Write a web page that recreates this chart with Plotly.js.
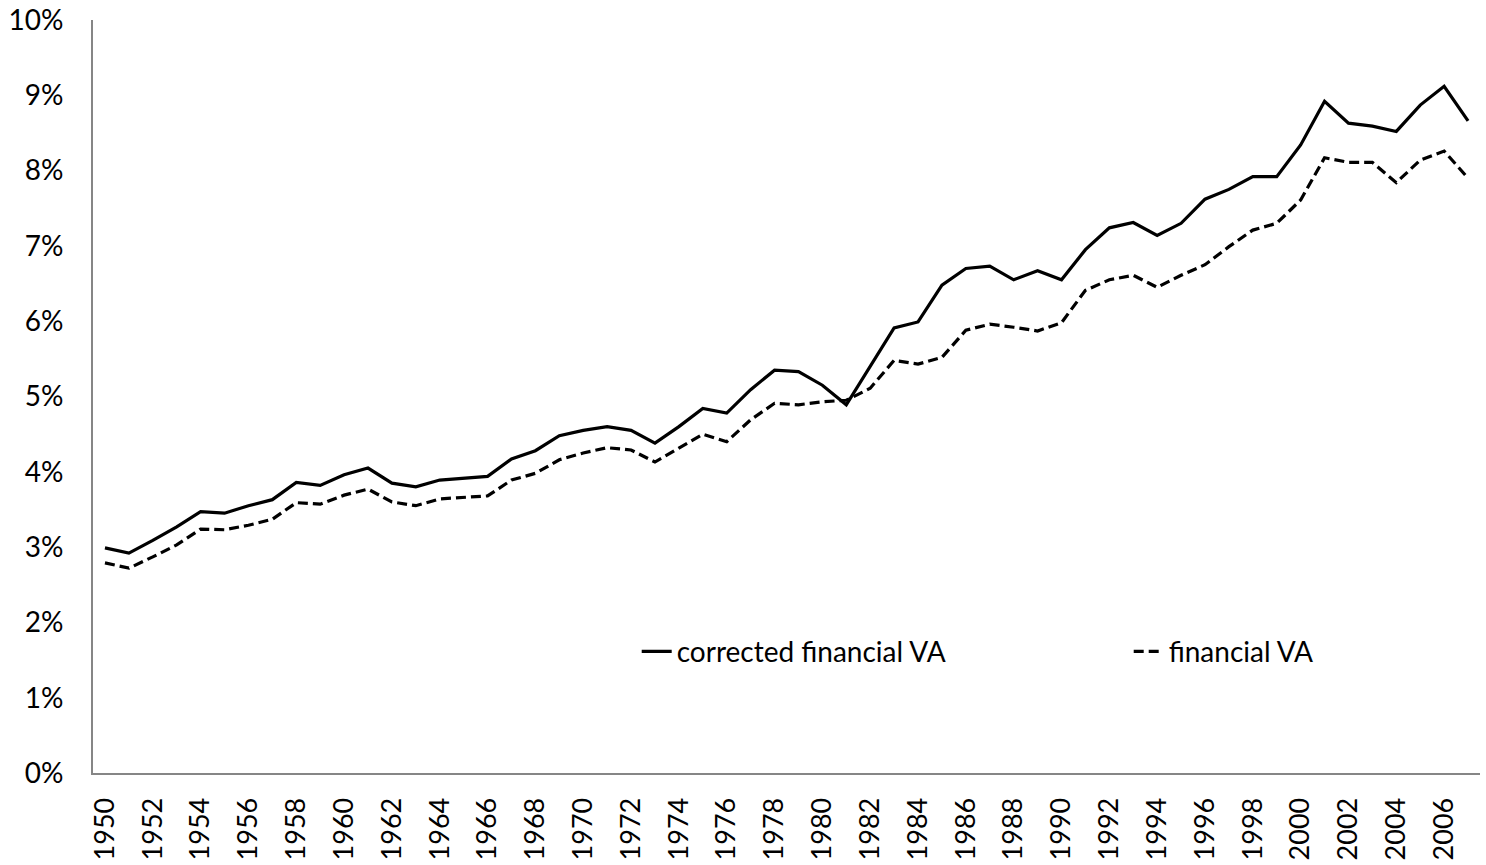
<!DOCTYPE html>
<html>
<head>
<meta charset="utf-8">
<script src="https://cdn.plot.ly/plotly-3.0.1.min.js"></script>
<style>html,body{margin:0;padding:0;background:#fff;}#chart{width:1486px;height:865px;}</style>
</head>
<body>
<div id="chart"></div>
<script>
const years = ["1950","1951","1952","1953","1954","1955","1956","1957","1958","1959",
"1960","1961","1962","1963","1964","1965","1966","1967","1968","1969",
"1970","1971","1972","1973","1974","1975","1976","1977","1978","1979",
"1980","1981","1982","1983","1984","1985","1986","1987","1988","1989",
"1990","1991","1992","1993","1994","1995","1996","1997","1998","1999",
"2000","2001","2002","2003","2004","2005","2006","2007"];

const correctedFinancialVA = [2.99,2.92,3.09,3.27,3.47,3.45,3.55,3.63,3.86,3.82,
3.96,4.05,3.85,3.80,3.89,3.92,3.94,4.17,4.28,4.48,
4.55,4.60,4.55,4.38,4.60,4.84,4.78,5.09,5.35,5.33,
5.15,4.89,5.40,5.91,5.99,6.48,6.70,6.73,6.55,6.67,
6.55,6.95,7.24,7.31,7.14,7.30,7.62,7.75,7.92,7.92,
8.34,8.92,8.63,8.59,8.52,8.87,9.12,8.66];

const financialVA = [2.79,2.72,2.87,3.03,3.24,3.23,3.29,3.37,3.59,3.57,
3.69,3.77,3.60,3.55,3.64,3.66,3.68,3.89,3.98,4.16,
4.25,4.32,4.29,4.13,4.31,4.50,4.40,4.69,4.91,4.89,
4.93,4.95,5.11,5.48,5.43,5.52,5.88,5.96,5.92,5.87,
5.98,6.41,6.55,6.61,6.45,6.61,6.75,6.99,7.21,7.30,
7.61,8.17,8.11,8.11,7.84,8.14,8.26,7.90];

const xTickLabels = ["1950","1952","1954","1956","1958","1960","1962","1964","1966","1968",
"1970","1972","1974","1976","1978","1980","1982","1984","1986","1988",
"1990","1992","1994","1996","1998","2000","2002","2004","2006"];

const seriesNames = ["corrected financial VA", "financial VA"];

const toFrac = a => a.map(v => v / 100);

const FONT = "Lato, 'Liberation Sans', sans-serif";

const traces = [
  {x: years, y: toFrac(correctedFinancialVA), name: seriesNames[0], type: "scatter", mode: "lines",
   line: {color: "#000000", width: 3.2}},
  {x: years, y: toFrac(financialVA), name: seriesNames[1], type: "scatter", mode: "lines",
   line: {color: "#000000", width: 3.2, dash: "10px,5px"}}
];

const layout = {
  width: 1486, height: 865,
  margin: {l: 93, r: 6, t: 20, b: 92, autoexpand: false},
  paper_bgcolor: "#ffffff", plot_bgcolor: "#ffffff",
  font: {family: FONT, size: 28, color: "#000000"},
  showlegend: true,
  legend: {orientation: "h", x: 0.392, y: 0.161, xanchor: "left", yanchor: "middle",
           font: {family: FONT, size: 28, color: "#000000"},
           entrywidth: 447, entrywidthmode: "pixels", bgcolor: "rgba(0,0,0,0)"},
  xaxis: {type: "category", range: [-0.5, years.length - 0.5],
          tickmode: "array", tickvals: xTickLabels, ticktext: xTickLabels,
          tickangle: -90, showgrid: false, zeroline: false,
          showline: true, linecolor: "#868686", linewidth: 2,
          ticks: "", ticklabelstandoff: 12,
          tickfont: {family: FONT, size: 27, color: "#000000"}},
  yaxis: {range: [0, 0.10], dtick: 0.01, tickformat: ".0%",
          showgrid: false, zeroline: false,
          showline: true, linecolor: "#868686", linewidth: 2,
          ticks: "", ticklabelstandoff: 22,
          tickfont: {family: FONT, size: 28, color: "#000000"}}
};

Plotly.newPlot("chart", traces, layout, {displayModeBar: false, staticPlot: true});
</script>
</body>
</html>
